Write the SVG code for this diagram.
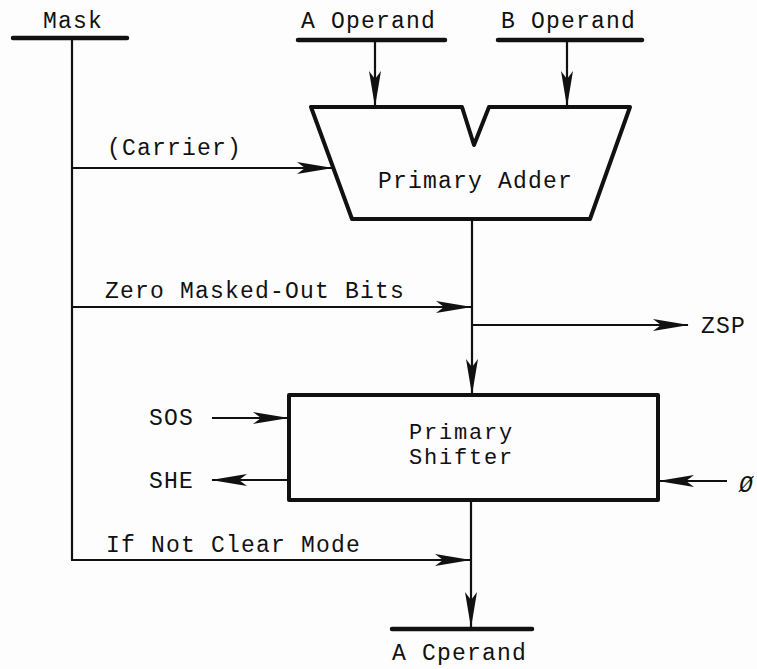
<svg xmlns="http://www.w3.org/2000/svg" width="757" height="669" viewBox="0 0 757 669">
<style>
  .t { font-family: "Liberation Mono", "DejaVu Sans Mono", monospace; font-size: 23px; letter-spacing: 1.2px; fill: #111; }
  .s { font-size: 22px; letter-spacing: 1.8px; }
  .w { fill: none; stroke: #111; stroke-width: 2.2; }
  .bar { stroke: #111; stroke-width: 4.5; stroke-linecap: round; }
  .box { fill: none; stroke: #111; stroke-width: 4; stroke-linejoin: round; }
</style>
<defs>
  <marker id="ah" viewBox="0 0 36 12" markerWidth="36" markerHeight="12" refX="35" refY="6" orient="auto" markerUnits="userSpaceOnUse">
    <path d="M0,0 L36,6 L0,12 L8,6 z" fill="#111"/>
  </marker>
</defs>
<rect width="757" height="669" fill="#fdfdfd"/>

<g id="mask">
  <line class="bar" x1="13" y1="38" x2="127" y2="38"/>
  <text class="t" x="43" y="28">Mask</text>
</g>
<g id="a-operand-in">
  <line class="bar" x1="298" y1="40" x2="445" y2="40"/>
  <text class="t" x="301" y="28">A Operand</text>
</g>
<g id="b-operand-in">
  <line class="bar" x1="498" y1="40" x2="642" y2="40"/>
  <text class="t" x="501" y="28">B Operand</text>
</g>
<g id="primary-adder">
  <path class="box" d="M311,107 L462,107 L474,145 L489,107 L630,107 L590,219 L352,219 Z"/>
  <text class="t" x="378" y="188">Primary Adder</text>
</g>
<g id="primary-shifter">
  <rect class="box" x="289" y="395" width="369" height="105"/>
  <text class="t s" x="409" y="439">Primary</text>
  <text class="t s" x="409" y="464">Shifter</text>
</g>
<g id="a-operand-out">
  <line class="bar" x1="392" y1="629" x2="532" y2="629"/>
  <text class="t" x="392" y="660">A Cperand</text>
</g>
<g id="sos"><text class="t" x="149" y="425">SOS</text></g>
<g id="she"><text class="t" x="149" y="488">SHE</text></g>
<g id="zsp"><text class="t" x="701" y="333">ZSP</text></g>
<g id="zero-in"><text class="t" x="739" y="492" font-style="italic" letter-spacing="0">Ø</text></g>

<g id="connectors">
  <line class="w" x1="72" y1="38" x2="72" y2="560"/>
  <line class="w" x1="375" y1="40" x2="375" y2="106" marker-end="url(#ah)"/>
  <line class="w" x1="567" y1="40" x2="567" y2="106" marker-end="url(#ah)"/>
  <line class="w" x1="72" y1="168" x2="332" y2="168" marker-end="url(#ah)"/>
  <text class="t" x="107" y="155">(Carrier)</text>
  <line class="w" x1="472" y1="219" x2="472" y2="394" marker-end="url(#ah)"/>
  <line class="w" x1="72" y1="307" x2="471" y2="307" marker-end="url(#ah)"/>
  <text class="t" x="105" y="298">Zero Masked-Out Bits</text>
  <line class="w" x1="472" y1="325" x2="688" y2="325" marker-end="url(#ah)"/>
  <line class="w" x1="212" y1="418" x2="288" y2="418" marker-end="url(#ah)"/>
  <line class="w" x1="289" y1="480" x2="212" y2="480" marker-end="url(#ah)"/>
  <line class="w" x1="727" y1="481" x2="659" y2="481" marker-end="url(#ah)"/>
  <line class="w" x1="471" y1="500" x2="471" y2="627" marker-end="url(#ah)"/>
  <line class="w" x1="71" y1="560" x2="470" y2="560" marker-end="url(#ah)"/>
  <text class="t" x="106" y="552">If Not Clear Mode</text>
</g>
</svg>
